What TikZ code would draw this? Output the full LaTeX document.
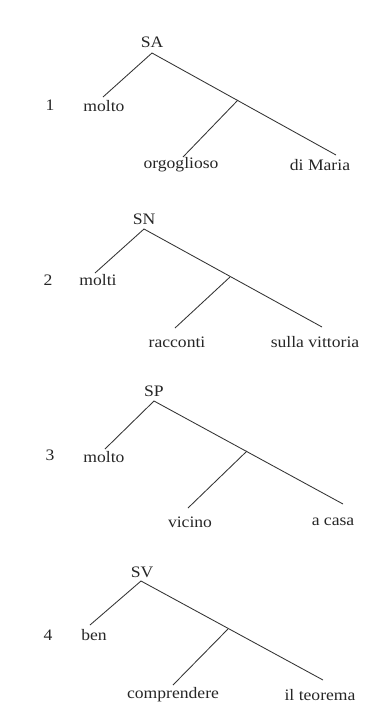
\documentclass[tikz,border=0pt]{standalone}
\usepackage{fontspec}
\setmainfont{Liberation Serif}
\begin{document}
\begin{tikzpicture}[x=1pt,y=-1pt,
  lbl/.style={inner sep=0pt, font=\fontsize{16}{18}\selectfont, xscale=1.1, transform shape, text=black!85},
  edge/.style={draw=black!80, line width=0.85pt}]
\useasboundingbox[fill=white] (0,0) rectangle (383,718);
% ---- Tree 1
\node[lbl] (SA) at (152,42) {SA};
\node[lbl] (n1) at (50,105) {1};
\node[lbl] (molto1) at (104,106) {molto};
\node[lbl] (orgo) at (181,165) {orgoglioso};
\node[lbl] (maria) at (320,165) {di Maria};
\coordinate (a1) at (152,53);
\coordinate (m1) at (238,100);
\coordinate (l1) at (103,97);
\coordinate (o1) at (183,157);
\coordinate (r1) at (336,155);
\draw[edge] (l1) -- (a1) -- (r1);
\draw[edge] (m1) -- (o1);
% ---- Tree 2
\node[lbl] (SN) at (144,219) {SN};
\node[lbl] (n2) at (48,280) {2};
\node[lbl] (molti) at (98,280) {molti};
\node[lbl] (racc) at (177,342) {racconti};
\node[lbl] (sulla) at (315,342) {sulla vittoria};
\coordinate (a2) at (144,229);
\coordinate (m2) at (230,277);
\coordinate (l2) at (95,273);
\coordinate (o2) at (175,328);
\coordinate (r2) at (322,327);
\draw[edge] (l2) -- (a2) -- (r2);
\draw[edge] (m2) -- (o2);
% ---- Tree 3
\node[lbl] (SP) at (154,391) {SP};
\node[lbl] (n3) at (50,455) {3};
\node[lbl] (molto3) at (104,457) {molto};
\node[lbl] (vic) at (190,522) {vicino};
\node[lbl] (casa) at (333,522) {a casa};
\coordinate (a3) at (154,401);
\coordinate (m3) at (247,451);
\coordinate (l3) at (105,449);
\coordinate (o3) at (188,508);
\coordinate (r3) at (343,504);
\draw[edge] (l3) -- (a3) -- (r3);
\draw[edge] (m3) -- (o3);
% ---- Tree 4
\node[lbl] (SV) at (142,572) {SV};
\node[lbl] (n4) at (48,635) {4};
\node[lbl] (ben) at (94,635) {ben};
\node[lbl] (comp) at (173,695) {comprendere};
\node[lbl] (teo) at (320,695) {il teorema};
\coordinate (a4) at (141,581);
\coordinate (m4) at (228,629);
\coordinate (l4) at (90,625);
\coordinate (o4) at (173,685);
\coordinate (r4) at (323,680);
\draw[edge] (l4) -- (a4) -- (r4);
\draw[edge] (m4) -- (o4);
\end{tikzpicture}
\end{document}
